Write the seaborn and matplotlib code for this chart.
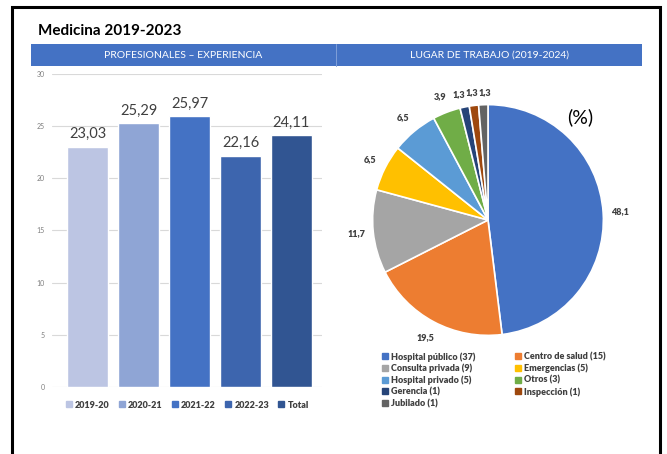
import matplotlib.pyplot as plt
from matplotlib.lines import Line2D
from matplotlib.patches import Rectangle
import pandas as pd
import seaborn as sns

sns.set_theme(style="white")
plt.rcParams["font.family"] = ["Lato", "DejaVu Sans"]

W, H = 667, 454

periods = ["2019-20", "2020-21", "2021-22", "2022-23", "Total"]
experience = [23.03, 25.29, 25.97, 22.16, 24.11]
bar_colors = ["#BCC5E3", "#8FA5D5", "#4472C4", "#3D65AE", "#315592"]

places = ["Hospital público", "Centro de salud", "Consulta privada", "Emergencias",
          "Hospital privado", "Otros", "Gerencia", "Inspección", "Jubilado"]
place_counts = [37, 15, 9, 5, 5, 3, 1, 1, 1]
place_pct = [48.1, 19.5, 11.7, 6.5, 6.5, 3.9, 1.3, 1.3, 1.3]
pie_colors = ["#4472C4", "#ED7D31", "#A5A5A5", "#FFC000", "#5B9BD5",
              "#70AD47", "#264478", "#9E480E", "#636363"]


def box(x0, y0, x1, y1):
    # pixel box, origin top-left -> figure rect
    return [x0 / W, 1 - y1 / H, (x1 - x0) / W, (y1 - y0) / H]


def comma(v, fmt):
    return format(v, fmt).replace(".", ",")


fig = plt.figure(figsize=(W / 100, H / 100), dpi=100)

# outer frame + header band
fig.patches.append(Rectangle((12 / W, -0.05), (660 - 12) / W, 1.05 - 7 / H,
                             transform=fig.transFigure, fill=False,
                             ec="black", lw=2.2))
fig.patches.append(Rectangle((31 / W, 1 - 66 / H), (642 - 31) / W, 22 / H,
                             transform=fig.transFigure, color="#4472C4", lw=0))
fig.lines.append(Line2D([336 / W, 336 / W], [1 - 66 / H, 1 - 44 / H],
                        transform=fig.transFigure, color="#7F9FD8", lw=0.7))
fig.text(38 / W, 1 - 31 / H, "Medicina 2019-2023", fontsize=11,
         weight="bold", va="center", color="black")
fig.text(183 / W, 1 - 55 / H, "PROFESIONALES – EXPERIENCIA", fontsize=7.5,
         color="white", ha="center", va="center")
fig.text(489 / W, 1 - 55 / H, "LUGAR DE TRABAJO (2019-2024)", fontsize=7.5,
         color="white", ha="center", va="center")

# ---- bar chart ----
ax = fig.add_axes(box(52, 74, 322, 387))
df = pd.DataFrame({"period": periods, "years": experience})
sns.barplot(data=df, x="period", y="years", hue="period", palette=bar_colors,
            width=0.8, legend=False, ax=ax, saturation=1)
ax.set_ylim(0, 30)
ax.set_yticks(range(0, 31, 5))
ax.set_xlim(-0.7, 4.6)
ax.set_xticks([])
ax.set_xlabel("")
ax.set_ylabel("")
ax.yaxis.grid(True, color="#D9D9D9", lw=0.8)
ax.set_axisbelow(True)
for s in ax.spines.values():
    s.set_visible(False)
ax.tick_params(axis="y", length=0, pad=5, labelsize=5, labelcolor="#7F7F7F")
for cont, v in zip(ax.containers, experience):
    ax.bar_label(cont, labels=[comma(v, ".2f")], padding=4, fontsize=10.5,
                 color="#404040")

bar_handles = [Line2D([], [], marker="s", ls="", color=c, markersize=5)
               for c in bar_colors]
ax.legend(bar_handles, periods, loc="center",
          bbox_to_anchor=(187 / W, 1 - 405 / H), bbox_transform=fig.transFigure,
          ncol=5, frameon=False, handletextpad=0.3, columnspacing=0.95,
          handlelength=0.8, labelcolor="#404040",
          prop={"weight": "heavy", "size": 6.5})

# ---- pie chart ----
pax = fig.add_axes(box(338, 70, 638, 370))
wedges, texts = pax.pie(place_pct, colors=pie_colors, startangle=90,
                        counterclock=False,
                        labels=[comma(p, ".1f") for p in place_pct],
                        labeldistance=1.15,
                        wedgeprops=dict(edgecolor="white", linewidth=1.2),
                        textprops=dict(fontsize=6.5, weight="heavy",
                                       color="#404040"))
for t in texts:
    t.set_ha("center")
    t.set_va("center")
# spread the three tiny slice labels so they sit side by side
for t, dx in zip(texts[-3:], [-0.018, 0.0, 0.016]):
    x, y = t.get_position()
    t.set_position((x + dx, y - 0.04))
pax.set_xlim(-1.3, 1.3)
pax.set_ylim(-1.3, 1.3)
pax.set_aspect("equal")
pax.axis("off")
fig.text(580 / W, 1 - 117 / H, "(%)", fontsize=14, ha="center", va="center",
         color="black")

order = [0, 2, 4, 6, 8, 1, 3, 5, 7]
pie_handles = [Line2D([], [], marker="s", ls="", color=pie_colors[i],
                      markersize=4) for i in order]
pie_labels = [f"{places[i]} ({place_counts[i]})" for i in order]
pax.legend(pie_handles, pie_labels, loc="upper left",
           bbox_to_anchor=(373 / W, 1 - 344 / H), bbox_transform=fig.transFigure,
           ncol=2, frameon=False, handletextpad=0.3, columnspacing=4.3,
           handlelength=0.8, labelspacing=0.25, labelcolor="#404040",
           prop={"weight": "heavy", "size": 6.5})

fig.savefig("out.png", dpi=100)
